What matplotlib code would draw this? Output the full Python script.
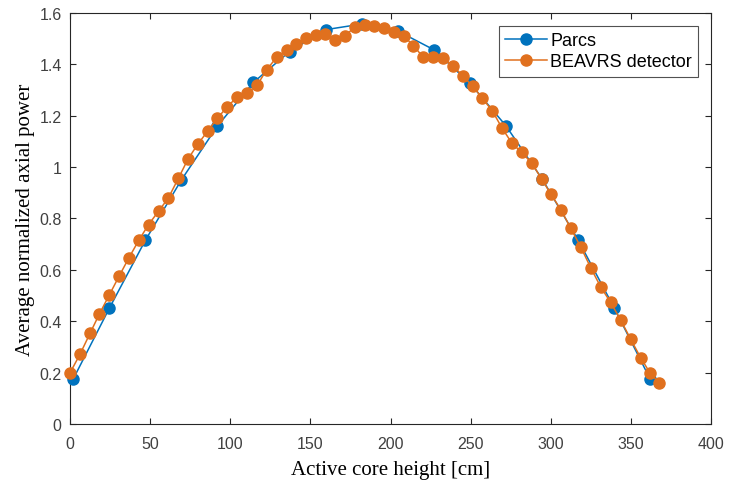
import matplotlib.pyplot as plt

# PARCS nodal results
parcs_x = [2, 24.5, 47, 69.5, 92, 114.5, 137, 159.5, 182, 204.5,
           227, 249.5, 272, 294.5, 317, 339.5, 362]
parcs_y = [0.175, 0.45, 0.715, 0.95, 1.16, 1.33, 1.45, 1.535, 1.557, 1.53,
           1.457, 1.327, 1.161, 0.955, 0.717, 0.453, 0.175]

# BEAVRS detector measurements
beavrs_x = [0, 6.2, 12.5, 18.3, 24.5, 30.6, 36.6, 43, 49, 55.3,
            61.3, 67.6, 73.6, 79.7, 85.9, 91.9, 98.2, 104.4, 110.6, 116.9,
            122.7, 128.9, 135.2, 141, 147.3, 153.3, 159.1, 165.4, 171.6, 178,
            183.9, 189.9, 195.9, 202.4, 208.5, 214.3, 220.5, 226.6, 232.9, 238.9,
            245.1, 251.4, 257.4, 263.6, 269.7, 275.9, 281.9, 288.1, 294.3, 300.1,
            306.4, 312.4, 318.8, 325.1, 331.3, 337.3, 343.6, 349.8, 356.1, 361.9,
            367.7]
beavrs_y = [0.199, 0.271, 0.353, 0.428, 0.502, 0.575, 0.645, 0.716, 0.776, 0.829,
            0.879, 0.956, 1.031, 1.089, 1.14, 1.19, 1.235, 1.274, 1.287, 1.32,
            1.379, 1.427, 1.457, 1.481, 1.501, 1.514, 1.518, 1.496, 1.511, 1.547,
            1.553, 1.55, 1.54, 1.527, 1.509, 1.473, 1.427, 1.427, 1.423, 1.394,
            1.356, 1.314, 1.268, 1.218, 1.151, 1.092, 1.057, 1.016, 0.954, 0.895,
            0.833, 0.763, 0.688, 0.606, 0.532, 0.474, 0.405, 0.331, 0.258, 0.199,
            0.16]

blue = "#0072BD"
orange = "#E0701E"

fig = plt.figure(figsize=(7.3, 4.89), dpi=100)
ax = fig.add_axes([0.0959, 0.1309, 0.8781, 0.8405])

ax.plot(parcs_x, parcs_y, "-o", color=blue, lw=1.1, ms=8,
        label="Parcs", clip_on=False, zorder=3)
ax.plot(beavrs_x, beavrs_y, "-o", color=orange, lw=1.1, ms=8,
        label="BEAVRS detector", clip_on=False, zorder=4)

ax.set_xlim(0, 400)
ax.set_ylim(0, 1.6)
ax.set_xticks(range(0, 401, 50))
ax.set_yticks([0, 0.2, 0.4, 0.6, 0.8, 1, 1.2, 1.4, 1.6])
ax.set_yticklabels(["0", "0.2", "0.4", "0.6", "0.8", "1", "1.2", "1.4", "1.6"])

ax.tick_params(direction="in", top=True, right=True, length=4, width=0.8,
               color="#262626", labelcolor="#404040", labelsize=11.5)
ax.tick_params(axis="x", pad=9)
ax.tick_params(axis="y", pad=6)
for lab in ax.get_xticklabels() + ax.get_yticklabels():
    lab.set_family("Liberation Sans")
for s in ax.spines.values():
    s.set_color("#262626")
    s.set_linewidth(0.8)

ax.set_xlabel("Active core height [cm]", family="Liberation Serif",
              fontsize=15, labelpad=6)
ax.set_ylabel("Average normalized axial power", family="Liberation Serif",
              fontsize=15, labelpad=3)

leg = ax.legend(loc="upper right", fancybox=False, edgecolor="#262626",
                prop={"family": "Liberation Sans", "size": 13},
                handlelength=2.3, handletextpad=0.2, borderpad=0.35,
                labelspacing=0.25, borderaxespad=0.7)
leg.get_frame().set_linewidth(0.8)

fig.savefig("out.png", dpi=100)
